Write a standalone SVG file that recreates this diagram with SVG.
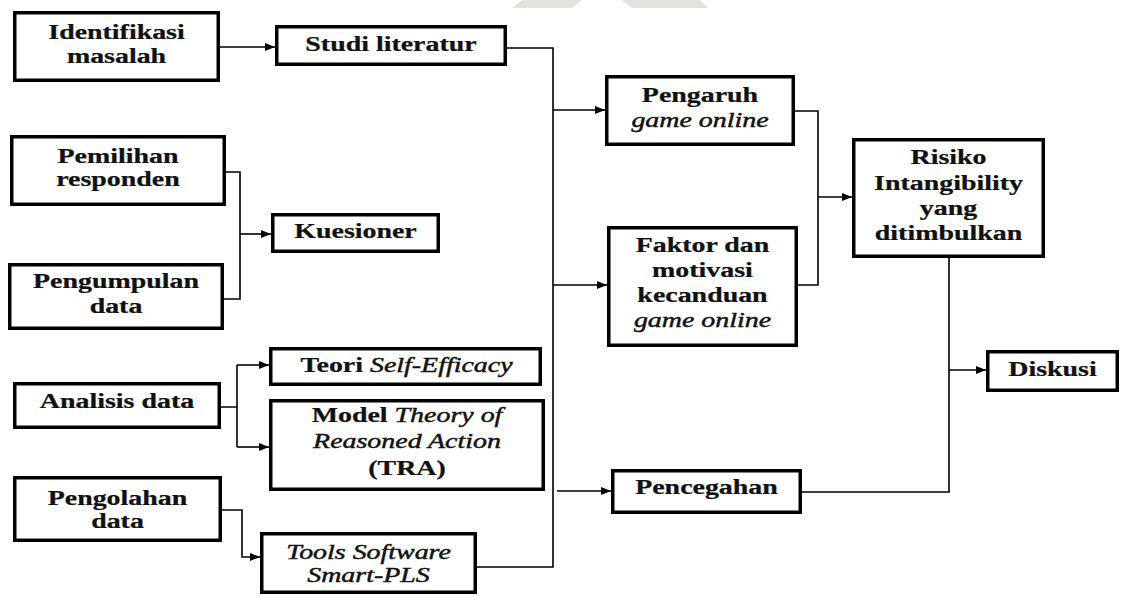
<svg xmlns="http://www.w3.org/2000/svg" width="1126" height="597" viewBox="0 0 1126 597">
  <style>
    .box { fill: #ffffff; stroke: #000000; stroke-width: 3.5; }
    .link { fill: none; stroke: #000000; stroke-width: 1.6; }
    .t { font-family: "Liberation Serif", "Times New Roman", serif; font-size: 21px; font-weight: bold; fill: #111111; stroke: #111111; stroke-width: 0.25; text-anchor: middle; }
    .i { font-style: italic; font-weight: normal; stroke-width: 0.45; }
    .mark { fill: #e3e3dd; }
  </style>
  <defs>
    <marker id="arrow" viewBox="0 0 10 8" refX="10" refY="4" markerWidth="10" markerHeight="8" markerUnits="userSpaceOnUse" orient="auto">
      <path d="M0,0 L10,4 L0,8 Z" fill="#000000"/>
    </marker>
  </defs>

  <rect width="1126" height="597" fill="#ffffff"/>

  <!-- faint background emblem at the top edge -->
  <g id="emblem">
    <polygon class="mark" points="522,0 582,0 572,8 512,8"/>
    <polygon class="mark" points="622,0 700,0 708,8 632,8"/>
  </g>

  <!-- connectors -->
  <g id="connectors">
    <path class="link" d="M220,47 H275" marker-end="url(#arrow)"/>

    <path class="link" d="M226,172 H240 V299 H224"/>
    <path class="link" d="M240,234 H271" marker-end="url(#arrow)"/>

    <path class="link" d="M221,407 H237 M237,365 V447"/>
    <path class="link" d="M237,365 H269" marker-end="url(#arrow)"/>
    <path class="link" d="M237,447 H269" marker-end="url(#arrow)"/>

    <path class="link" d="M222,510 H242 V557 H260" marker-end="url(#arrow)"/>

    <path class="link" d="M507,48 H553 V567 H477"/>
    <path class="link" d="M553,110 H605" marker-end="url(#arrow)"/>
    <path class="link" d="M553,285 H607" marker-end="url(#arrow)"/>
    <path class="link" d="M557,491 H611" marker-end="url(#arrow)"/>

    <path class="link" d="M795,111 H818 V285 H798"/>
    <path class="link" d="M818,197 H852" marker-end="url(#arrow)"/>

    <path class="link" d="M949,258 V492 H802"/>
    <path class="link" d="M949,370 H986" marker-end="url(#arrow)"/>
  </g>

  <!-- nodes -->
  <g id="identifikasi">
    <rect class="box" x="14.75" y="12.75" width="203.5" height="67.5"/>
    <text class="t" transform="translate(116.5,39) scale(1.33,1)"><tspan x="0" y="0">Identifikasi</tspan><tspan x="0" y="24">masalah</tspan></text>
  </g>

  <g id="studi">
    <rect class="box" x="276.75" y="26.75" width="228.5" height="37.5"/>
    <text class="t" transform="translate(391,51) scale(1.33,1)">Studi literatur</text>
  </g>

  <g id="pemilihan">
    <rect class="box" x="11.75" y="136.75" width="212.5" height="67.5"/>
    <text class="t" transform="translate(118,163) scale(1.33,1)"><tspan x="0" y="0">Pemilihan</tspan><tspan x="0" y="23">responden</tspan></text>
  </g>

  <g id="pengumpulan">
    <rect class="box" x="9.75" y="264.75" width="212.5" height="63.5"/>
    <text class="t" transform="translate(116,288) scale(1.33,1)"><tspan x="0" y="0">Pengumpulan</tspan><tspan x="0" y="25">data</tspan></text>
  </g>

  <g id="kuesioner">
    <rect class="box" x="272.75" y="214.75" width="165.5" height="36.5"/>
    <text class="t" transform="translate(355.5,238) scale(1.33,1)">Kuesioner</text>
  </g>

  <g id="analisis">
    <rect class="box" x="14.75" y="383.75" width="204.5" height="43.5"/>
    <text class="t" transform="translate(117,408) scale(1.33,1)">Analisis data</text>
  </g>

  <g id="teori">
    <rect class="box" x="270.75" y="348.75" width="269.5" height="35.5"/>
    <text class="t" transform="translate(406.5,372) scale(1.33,1)">Teori <tspan class="i">Self-Efficacy</tspan></text>
  </g>

  <g id="model">
    <rect class="box" x="270.75" y="400.75" width="272.5" height="88.5"/>
    <text class="t" transform="translate(407,422) scale(1.33,1)"><tspan x="0" y="0">Model <tspan class="i">Theory of</tspan></tspan><tspan class="i" x="0" y="26">Reasoned Action</tspan><tspan x="0" y="53">(TRA)</tspan></text>
  </g>

  <g id="pengolahan">
    <rect class="box" x="14.75" y="477.75" width="205.5" height="62.5"/>
    <text class="t" transform="translate(117.5,505) scale(1.33,1)"><tspan x="0" y="0">Pengolahan</tspan><tspan x="0" y="23">data</tspan></text>
  </g>

  <g id="tools">
    <rect class="box" x="261.75" y="533.75" width="213.5" height="58.5"/>
    <text class="t i" transform="translate(368.5,559) scale(1.33,1)"><tspan x="0" y="0">Tools Software</tspan><tspan x="0" y="23">Smart-PLS</tspan></text>
  </g>

  <g id="pengaruh">
    <rect class="box" x="606.75" y="76.75" width="186.5" height="67.5"/>
    <text class="t" transform="translate(700,102) scale(1.33,1)"><tspan x="0" y="0">Pengaruh</tspan><tspan class="i" x="0" y="25">game online</tspan></text>
  </g>

  <g id="faktor">
    <rect class="box" x="608.75" y="227.75" width="187.5" height="117.5"/>
    <text class="t" transform="translate(702.5,252) scale(1.33,1)"><tspan x="0" y="0">Faktor dan</tspan><tspan x="0" y="25">motivasi</tspan><tspan x="0" y="50">kecanduan</tspan><tspan class="i" x="0" y="75">game online</tspan></text>
  </g>

  <g id="pencegahan">
    <rect class="box" x="612.75" y="470.75" width="187.5" height="41.5"/>
    <text class="t" transform="translate(706.5,494) scale(1.33,1)">Pencegahan</text>
  </g>

  <g id="risiko">
    <rect class="box" x="853.75" y="139.75" width="189.5" height="116.5"/>
    <text class="t" transform="translate(948.5,164) scale(1.33,1)"><tspan x="0" y="0">Risiko</tspan><tspan x="0" y="26">Intangibility</tspan><tspan x="0" y="51">yang</tspan><tspan x="0" y="76">ditimbulkan</tspan></text>
  </g>

  <g id="diskusi">
    <rect class="box" x="987.75" y="351.75" width="129.5" height="38.5"/>
    <text class="t" transform="translate(1052.5,376) scale(1.33,1)">Diskusi</text>
  </g>
</svg>
